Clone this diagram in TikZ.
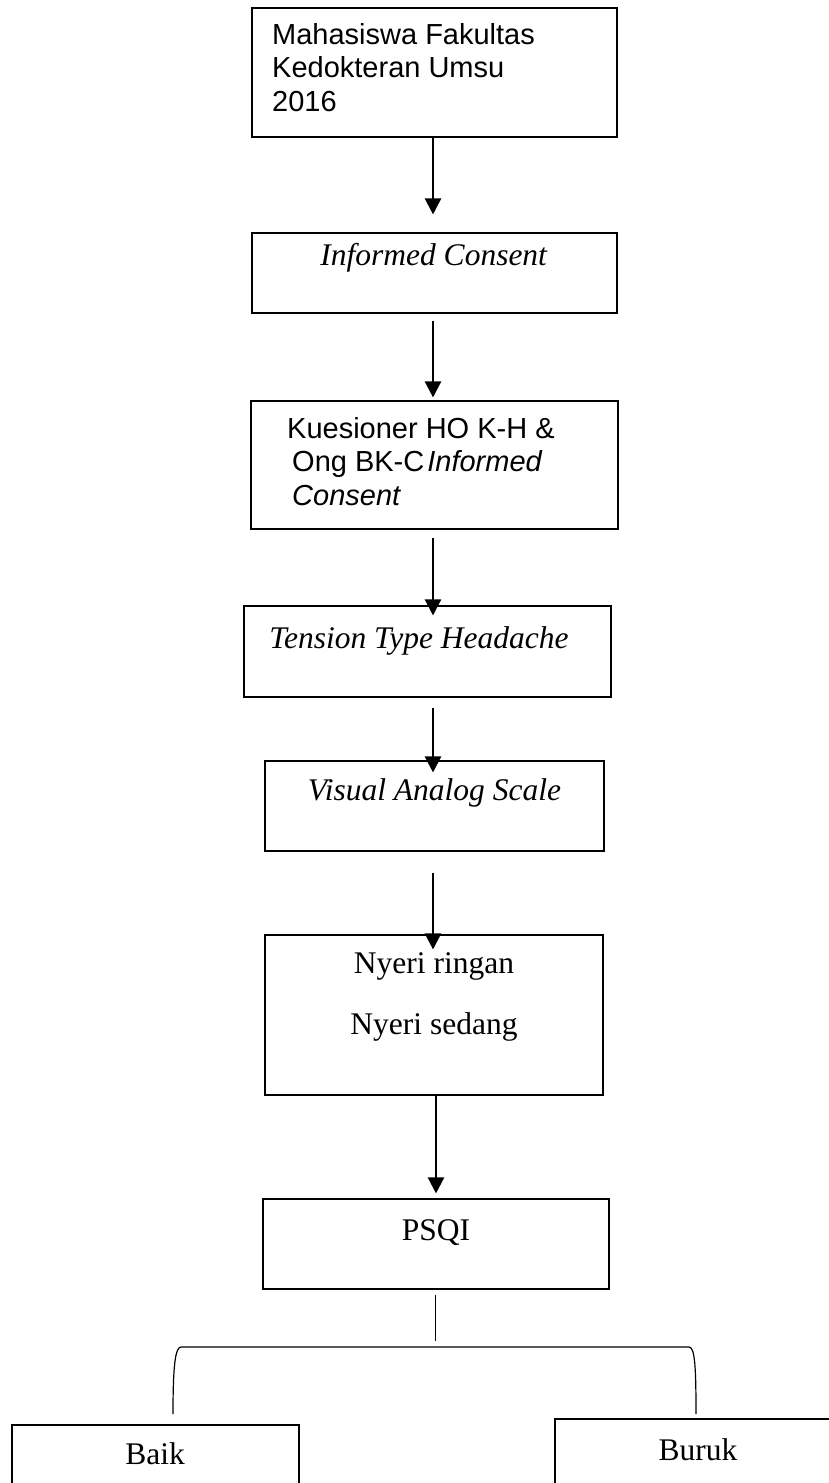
\documentclass[tikz,border=0pt]{standalone}
\usepackage{fontspec}
\setmainfont{Liberation Serif}
\newfontfamily\arialfont{Liberation Sans}
\usetikzlibrary{arrows.meta, calc}

\begin{document}
\begin{tikzpicture}[
  x=1pt, y=-1pt,
  box/.style={rectangle, draw, line width=1.1pt, inner sep=0pt},
  sans/.style={
    font=\arialfont\fontsize{29}{33.5}\selectfont,
    inner sep=0pt, align=left, anchor=base west,
  },
  serif/.style={
    font=\fontsize{31.5}{61}\selectfont,
    inner sep=0pt, align=center, anchor=base,
  },
  arr/.style={-{Triangle[length=16pt,width=16pt]}, line width=2.3pt},
  link/.style={line width=1pt},
]
\useasboundingbox (0,0) rectangle (829,1483);

% ---- Boxes ----
\node[box, minimum width=365pt, minimum height=129pt] (mhs)     at (434.5, 72.5) {};
\node[box, minimum width=365pt, minimum height=80pt]  (consent) at (434.5, 273)  {};
\node[box, minimum width=367pt, minimum height=128pt] (kues)    at (434.5, 465)  {};
\node[box, minimum width=367pt, minimum height=91pt]  (tth)     at (427.5, 651.5) {};
\node[box, minimum width=339pt, minimum height=90pt]  (vas)     at (434.5, 806)  {};
\node[box, minimum width=338pt, minimum height=160pt] (nyeri)   at (434, 1015)   {};
\node[box, minimum width=346pt, minimum height=90pt]  (psqi)    at (436, 1244)   {};
\node[box, minimum width=287pt, minimum height=90pt]  (baik)    at (155.5, 1470) {};
\node[box, minimum width=287pt, minimum height=90pt]  (buruk)   at (698.5, 1464) {};

% ---- Texts ---- (Word layout: text sits high in the box; base = last line)
\node[sans]  (mhsT)     at (272, 111)  {Mahasiswa Fakultas\\Kedokteran Umsu\\2016};
\node[serif] (consentT) at (434, 265)  {\textit{Informed Consent}};
\node[sans]  (kuesT)    at (287, 505)  {Kuesioner HO K-H \&\\\hspace*{5pt}Ong BK-C\hspace{3pt}\textit{Informed}\\\hspace*{5pt}\textit{Consent}};
\node[serif] (tthT)     at (419, 648)  {\textit{Tension Type Headache}};
\node[serif] (vasT)     at (434.5, 800) {\textit{Visual Analog Scale}};
\node[serif] (nyeriT)   at (434, 1034) {Nyeri ringan\\Nyeri sedang};
\node[serif] (psqiT)    at (436, 1240) {PSQI};
\node[serif] (baikT)    at (155, 1464) {Baik};
\node[serif] (burukT)   at (698, 1460) {Buruk};

% ---- Arrows down the spine ----
\coordinate (spine) at (433, 0);
\draw[arr, shorten >=18pt] (mhs.south -| spine) -- (consent.north -| spine);
\draw[arr, shorten <=7pt, shorten >=3pt] (consent.south -| spine) -- (kues.north -| spine);
\draw[arr, shorten <=8pt, shorten >=-10pt] (kues.south -| spine) -- (tth.north -| spine);
\draw[arr, shorten <=10pt, shorten >=-12pt] (tth.south -| spine) -- (vas.north -| spine);
\draw[arr, shorten <=21pt, shorten >=-15pt] (vas.south -| spine) -- (nyeri.north -| spine);
\draw[arr, shorten >=5pt] (nyeri.south -| psqi.north) -- (psqi.north);

% ---- Split into Baik / Buruk ----
\coordinate (split) at (435, 1347);
\coordinate (brL) at (173, 1414);
\coordinate (brR) at (696, 1414);
\draw[link, shorten <=5pt, shorten >=6pt] (psqi.south -| split) -- (split);
\draw[link, line width=1.2pt] (brL) .. controls (173,1368) and (175,1347) .. (181,1347)
  -- (689,1347) .. controls (695,1347) and (696,1368) .. (brR);

\end{tikzpicture}
\end{document}
